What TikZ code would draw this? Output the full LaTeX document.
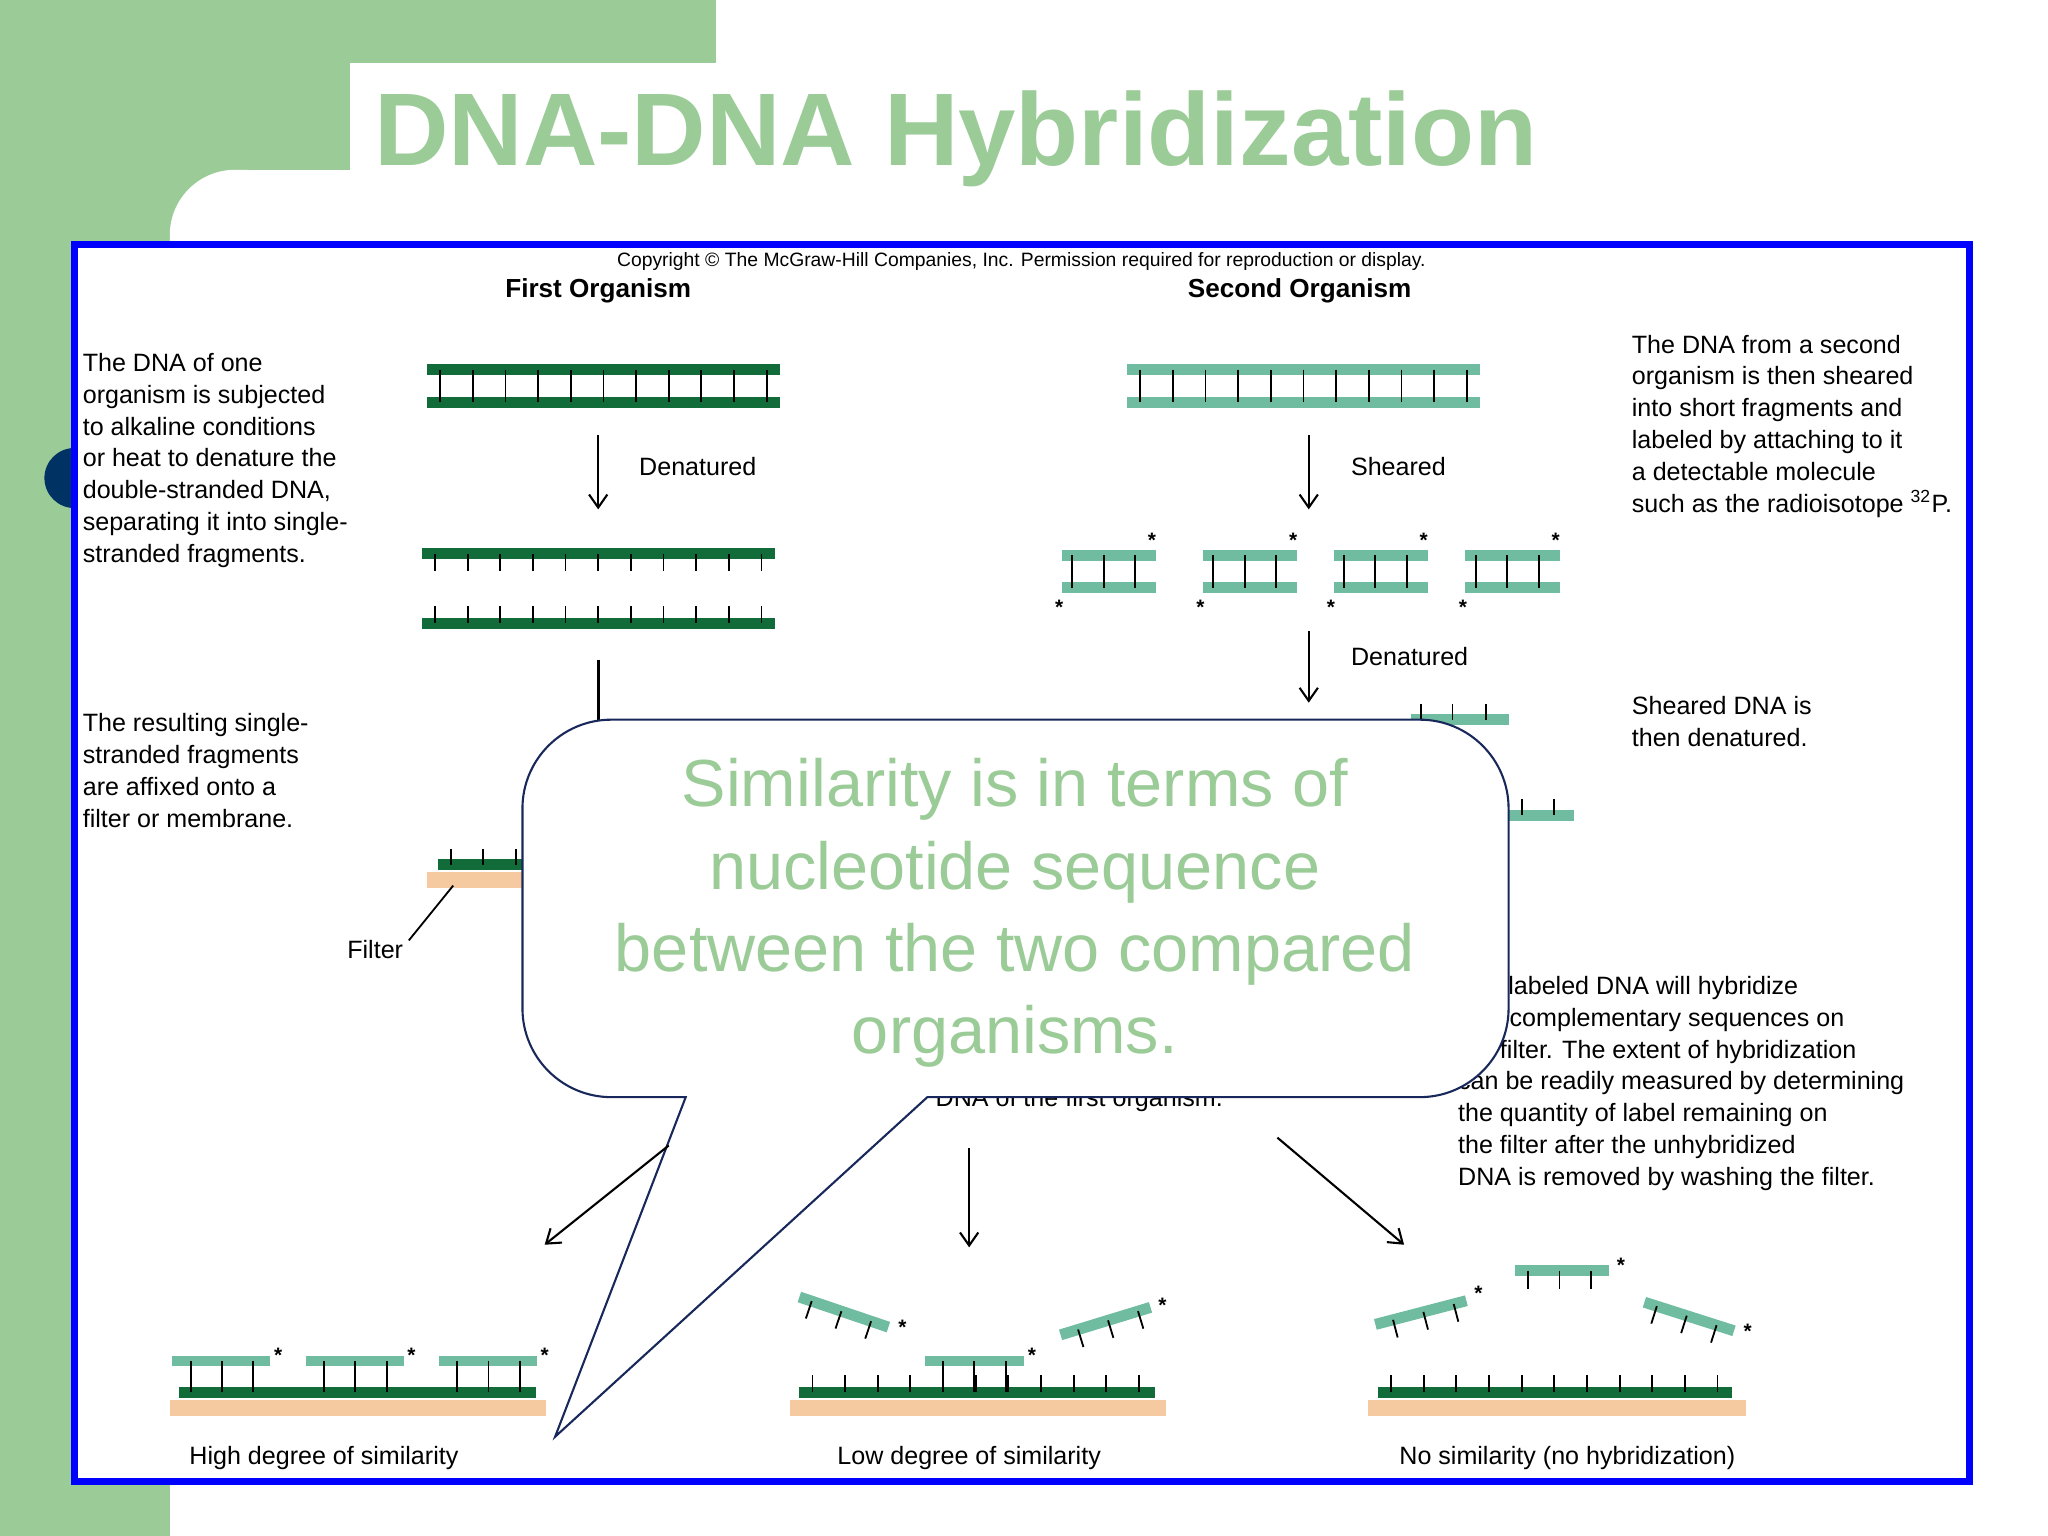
\documentclass[tikz,border=0pt]{standalone}
\usepackage{fontspec}
\setmainfont{Liberation Sans}
\usetikzlibrary{arrows.meta}
\definecolor{bgg}{RGB}{155,204,152}
\definecolor{dg}{RGB}{18,108,58}
\definecolor{tg}{RGB}{112,188,160}
\definecolor{tan}{RGB}{246,202,160}
\definecolor{navy}{RGB}{25,40,90}
\definecolor{dnavy}{RGB}{0,50,100}
\tikzset{
 drail/.style={dg,line width=4.2pt},
 trail/.style={tg,line width=4.2pt},
 rung/.style={black,line width=0.7pt},
 body/.style={font=\fontsize{9.6}{12.2}\selectfont,align=left,anchor=north west,inner sep=0pt},
 lbl/.style={font=\fontsize{9.6}{12}\selectfont,inner sep=0pt},
 arr/.style={-{Straight Barb[length=5pt,width=7pt]},line width=0.8pt},
 star/.style={font=\fontsize{8}{8}\selectfont\bfseries,inner sep=0pt},
 filt/.style={fill=tan,draw=none},
 tfrag/.pic={\draw[trail] (0,0)--(72,0); \foreach \x in {10,34,58}{\draw[rung] (\x,0)--(\x,14);}},
 tfragr/.pic={\draw[trail] (0,0)--(72,0); \foreach \x in {14,38,62}{\draw[rung] (\x,0)--(\x,14);}},
 ladder/.pic={\draw[trail] (0,0)--(72,0); \draw[trail] (0,25)--(72,25); \foreach \x in {8,32,56}{\draw[rung] (\x,0)--(\x,25);}}
}
\begin{document}
\begin{tikzpicture}[x=0.5pt,y=-0.5pt]
\useasboundingbox (0,0) rectangle (1568,1176);
\fill[white] (0,0) rectangle (1568,1176);
\fill[bgg] (0,0) rectangle (548,48);
\fill[bgg] (0,0) rectangle (268,130);
\fill[bgg] (0,0) rectangle (130,1176);
\fill[bgg] (130,130) rectangle (180,180);
\fill[white] (180,130) arc[start angle=90,end angle=180,radius=25pt] -- (130,190) -- (190,190) -- (190,130) -- cycle;
\node[anchor=base west,inner sep=0pt,text=bgg,font=\fontsize{39.5}{46}\selectfont\bfseries] (title) at (286,127) {DNA-DNA Hybridization};
\fill[dnavy] (57,343) arc[start angle=90,end angle=270,radius=11.5pt] -- cycle;
\draw[blue,line width=2.6pt,fill=white] (57,187) rectangle (1508,1134);
\node[font=\fontsize{7.4}{8}\selectfont,inner sep=0pt] (copy) at (782,200) {Copyright \copyright\ The McGraw-Hill Companies, Inc. Permission required for reproduction or display.};
\node[lbl,font=\fontsize{10}{12}\selectfont\bfseries] (h1) at (458,223) {First Organism};
\node[lbl,font=\fontsize{10}{12}\selectfont\bfseries] (h2) at (995,223) {Second Organism};
\node[body] (t1) at (63,270) {The DNA of one\\organism is subjected\\to alkaline conditions\\or heat to denature the\\double-stranded DNA,\\separating it into single-\\stranded fragments.};
\node[body] (t2) at (63,546) {The resulting single-\\stranded fragments\\are affixed onto a\\filter or membrane.};
\node[body] (t3) at (1249,256) {The DNA from a second\\organism is then sheared\\into short fragments and\\labeled by attaching to it\\a detectable molecule\\such as the radioisotope \textsuperscript{32}P.};
\node[body] (t4) at (1249,533) {Sheared DNA is\\then denatured.};
\node[body] (t5) at (1116,747) {The labeled DNA will hybridize\\with complementary sequences on\\the filter. The extent of hybridization\\can be readily measured by determining\\the quantity of label remaining on\\the filter after the unhybridized\\DNA is removed by washing the filter.};
\node[lbl,anchor=base west] (t6) at (716,847) {DNA of the first organism.};
\draw[drail] (327,283)--(597,283); \draw[drail] (327,308)--(597,308);
\foreach \x in {337,362,...,587}{\draw[rung] (\x,283)--(\x,308);}
\draw[trail] (863,283)--(1133,283); \draw[trail] (863,308)--(1133,308);
\foreach \x in {873,898,...,1123}{\draw[rung] (\x,283)--(\x,308);}
\coordinate (a1s) at (458,333); \coordinate (a1e) at (458,390);
\draw[arr] (a1s)--(a1e);
\node[lbl,anchor=west] (d1) at (489,357) {Denatured};
\coordinate (a2s) at (1002,333); \coordinate (a2e) at (1002,390);
\draw[arr] (a2s)--(a2e);
\node[lbl,anchor=west] (s1) at (1034,357) {Sheared};
\draw[drail] (323,424)--(593,424); \foreach \x in {333,358,...,583}{\draw[rung] (\x,424)--(\x,437);}
\draw[drail] (323,477)--(593,477); \foreach \x in {333,358,...,583}{\draw[rung] (\x,477)--(\x,464);}
\foreach \x in {813,921,1021,1122}{
 \pic at (\x,425) {ladder};
 \node[star] at (\x+69,414) {*};
 \node[star] at (\x-2,465) {*};
}
\coordinate (a3s) at (1002,483); \coordinate (a3e) at (1002,538);
\draw[arr] (a3s)--(a3e);
\node[lbl,anchor=west] (d2) at (1034,503) {Denatured};
\draw[line width=1pt] (458,505)--(458,600);
\draw[trail] (1080,551)--(1155,551); \foreach \x in {1088,1112,1138}{\draw[rung] (\x,551)--(\x,539);}
\draw[trail] (1120,624)--(1205,624); \foreach \x in {1165,1190}{\draw[rung] (\x,624)--(\x,612);}
\fill[filt] (327,668) rectangle (420,680);
\draw[drail] (335,662)--(420,662); \foreach \x in {345,370,395}{\draw[rung] (\x,662)--(\x,650);}
\node[lbl,anchor=east] (fl) at (309,727) {Filter};
\coordinate (fp) at (347,678);
\draw[line width=0.7pt] (313,720)--(fp);
\draw[navy,line width=0.8pt,fill=white] (525,840) [rounded corners=34pt] -- (400,840) -- (400,551) -- (1155,551) -- (1155,840) [sharp corners] -- (710,840) -- (425,1100) -- cycle;
\node[text=bgg,font=\fontsize{25.5}{31.5}\selectfont,align=center] (call) at (777,699) {Similarity is in terms of\\nucleotide sequence\\between the two compared\\organisms.};
\coordinate (b1s) at (512,877); \coordinate (b1e) at (417,953);
\coordinate (b2s) at (742,879); \coordinate (b2e) at (742,955);
\coordinate (b3s) at (978,871); \coordinate (b3e) at (1075,953);
\draw[arr] (b1s)--(b1e); \draw[arr] (b2s)--(b2e); \draw[arr] (b3s)--(b3e);
\fill[filt] (130,1072) rectangle (418,1084);
\draw[drail] (137,1066)--(410,1066);
\foreach \x in {132,234,336}{\draw[trail] (\x,1042)--(\x+75,1042); \foreach \d in {14,38,62}{\draw[rung] (\x+\d,1042)--(\x+\d,1066);} \node[star] at (\x+81,1038) {*};}
\node[lbl] (p1) at (248,1116) {High degree of similarity};
\fill[filt] (605,1072) rectangle (893,1084);
\draw[drail] (612,1066)--(884,1066); \foreach \x in {622,647,...,877}{\draw[rung] (\x,1066)--(\x,1053);}
\draw[trail] (708,1042)--(784,1042); \foreach \d in {14,38,62}{\draw[rung] (708+\d,1042)--(708+\d,1066);}
\node[star] at (790,1038) {*};
\pic[rotate=-18.7] at (612,993) {tfrag}; \node[star] at (691,1016) {*};
\pic[rotate=17] at (812,1022) {tfragr}; \node[star] at (890,999) {*};
\node[lbl] (p2) at (742,1116) {Low degree of similarity};
\fill[filt] (1047,1072) rectangle (1337,1084);
\draw[drail] (1055,1066)--(1326,1066); \foreach \x in {1065,1090,...,1320}{\draw[rung] (\x,1066)--(\x,1053);}
\pic[rotate=14.6] at (1053,1014) {tfragr}; \node[star] at (1132,990) {*};
\pic at (1160,973) {tfrag}; \node[star] at (1241,969) {*};
\pic[rotate=-17.7] at (1259,997) {tfrag}; \node[star] at (1338,1019) {*};
\node[lbl] (p3) at (1200,1116) {No similarity (no hybridization)};
\end{tikzpicture}
\end{document}
